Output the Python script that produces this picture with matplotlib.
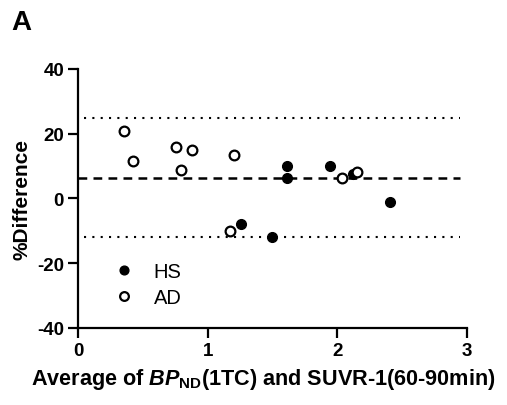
import matplotlib

matplotlib.use("Agg")
import matplotlib.pyplot as plt

# Bland-Altman: BPND(1TC) vs SUVR-1(60-90min)
hs_avg = [1.257, 1.493, 1.614, 1.609, 1.943, 2.123, 2.406]
hs_diff = [-7.8, -11.9, 9.9, 6.2, 10.0, 7.6, -1.2]
ad_avg = [0.357, 0.427, 0.758, 0.877, 0.792, 1.203, 1.174, 2.04, 2.154]
ad_diff = [20.8, 11.7, 16.0, 14.9, 8.8, 13.5, -9.9, 6.3, 8.1]
mean_bias = 6.3
loa_upper = 24.8
loa_lower = -12.0

plt.rcParams["font.family"] = ["Liberation Sans", "DejaVu Sans"]
plt.rcParams["axes.unicode_minus"] = False
plt.rcParams["mathtext.fontset"] = "custom"
plt.rcParams["mathtext.it"] = "Liberation Sans:italic:bold"
plt.rcParams["mathtext.rm"] = "Liberation Sans:bold"

fig = plt.figure(figsize=(5.07, 4.06), dpi=100)
ax = fig.add_axes([0.1538, 0.1897, 0.7672, 0.6379])

ax.plot([0, 2.95], [mean_bias, mean_bias], color="black", linestyle=(0, (3.5, 2.5)), linewidth=1.8)
ax.plot([0.05, 2.95], [loa_upper, loa_upper], color="black", linestyle=(0, (1, 3)), linewidth=1.5)
ax.plot([0.05, 2.95], [loa_lower, loa_lower], color="black", linestyle=(0, (1, 3)), linewidth=1.5)

ax.plot(hs_avg, hs_diff, "o", color="black", markersize=7, label="HS", zorder=3)
ax.plot(ad_avg, ad_diff, "o", markerfacecolor="white", markeredgecolor="black",
        markeredgewidth=1.6, markersize=7, label="AD", zorder=3)

ax.set_xlim(0, 3)
ax.set_ylim(-40, 40)
ax.set_xticks([0, 1, 2, 3])
ax.set_yticks([-40, -20, 0, 20, 40])
for side in ["top", "right"]:
    ax.spines[side].set_visible(False)
for side in ["left", "bottom"]:
    ax.spines[side].set_linewidth(1.6)
ax.tick_params(direction="out", length=7, width=1.6, labelsize=13.5, pad=3)
for lab in ax.get_xticklabels() + ax.get_yticklabels():
    lab.set_fontweight("bold")

ax.set_xlabel(r"Average of $BP_{\mathrm{ND}}$(1TC) and SUVR-1(60-90min)", fontsize=15.6, fontweight="bold")
ax.xaxis.set_label_coords(0.477, -0.145)
ax.set_ylabel("%Difference", fontsize=15, fontweight="bold", labelpad=4)

ax.legend(loc="lower left", bbox_to_anchor=(0.073, 0.05), frameon=False, fontsize=14.5,
          handletextpad=0.95, borderaxespad=0, labelspacing=0.33, handlelength=1.0,
          markerscale=0.9)

fig.text(0.022, 0.925, "A", fontsize=20, fontweight="bold")

plt.savefig("out.png", dpi=100)
